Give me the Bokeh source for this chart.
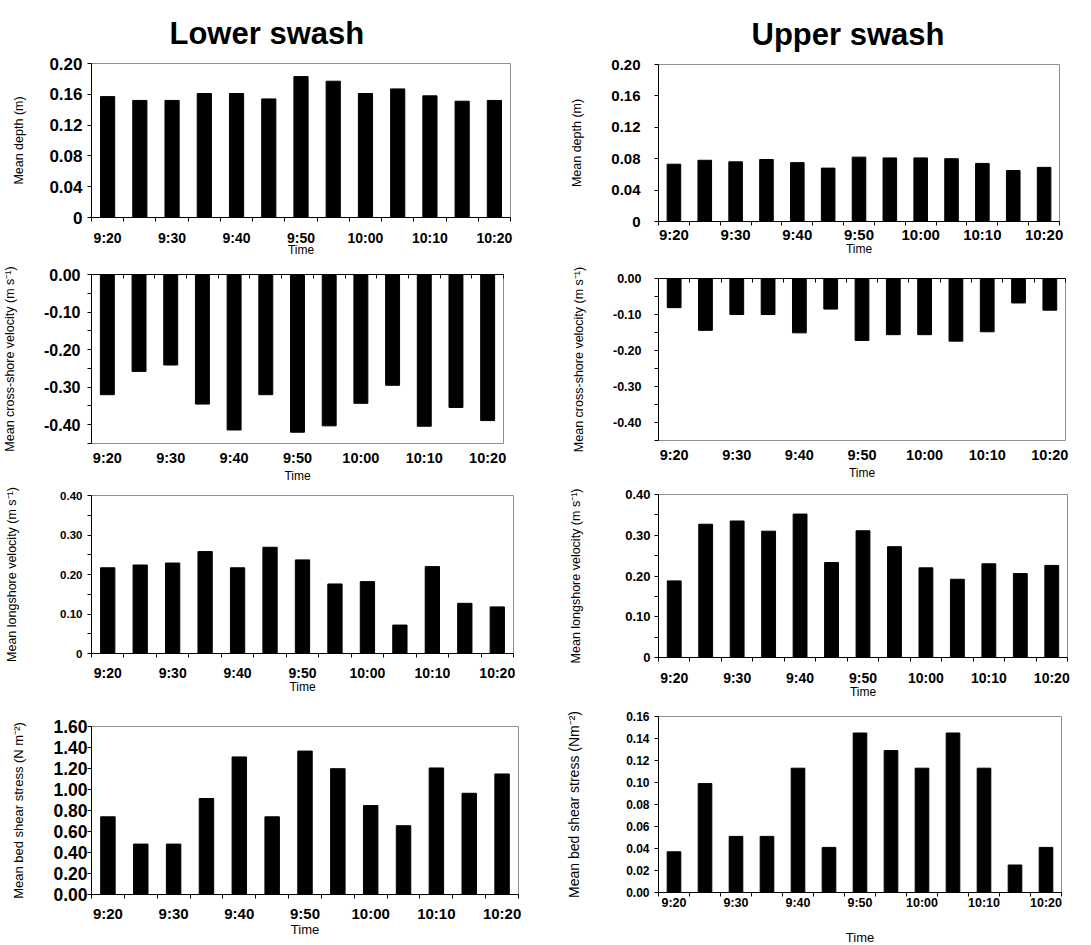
from bokeh.plotting import figure
from bokeh.models import Range1d, FixedTicker, LinearAxis, Title
from bokeh.layouts import row, column
from bokeh.embed import file_html
from bokeh.resources import INLINE

times = ["9:20", "9:25", "9:30", "9:35", "9:40", "9:45", "9:50",
         "9:55", "10:00", "10:05", "10:10", "10:15", "10:20"]

lower_depth = [0.157, 0.152, 0.152, 0.161, 0.161, 0.154, 0.183,
               0.177, 0.161, 0.167, 0.158, 0.151, 0.152]
upper_depth = [0.073, 0.078, 0.076, 0.079, 0.075, 0.068, 0.082,
               0.081, 0.081, 0.080, 0.074, 0.065, 0.069]
lower_cross = [-0.320, -0.258, -0.241, -0.345, -0.414, -0.320, -0.420,
               -0.403, -0.343, -0.295, -0.404, -0.354, -0.389]
upper_cross = [-0.081, -0.144, -0.100, -0.100, -0.151, -0.085, -0.172,
               -0.156, -0.156, -0.174, -0.148, -0.068, -0.088]
lower_long = [0.217, 0.224, 0.229, 0.258, 0.217, 0.269, 0.237,
              0.176, 0.182, 0.072, 0.220, 0.127, 0.118]
upper_long = [0.188, 0.327, 0.335, 0.310, 0.352, 0.233, 0.311,
              0.272, 0.220, 0.192, 0.230, 0.206, 0.226]
lower_shear = [0.74, 0.48, 0.48, 0.914, 1.31, 0.74, 1.366,
               1.198, 0.847, 0.655, 1.205, 0.964, 1.148]
upper_shear = [0.037, 0.099, 0.051, 0.051, 0.113, 0.041, 0.145,
               0.129, 0.113, 0.145, 0.113, 0.025, 0.041]

depth_ticks = [0, 0.04, 0.08, 0.12, 0.16, 0.20]
depth_labels = ["0", "0.04", "0.08", "0.12", "0.16", "0.20"]
cross_ticks = [0, -0.1, -0.2, -0.3, -0.4]
cross_labels = ["0.00", "-0.10", "-0.20", "-0.30", "-0.40"]
cross_minor = [-0.05, -0.15, -0.25, -0.35, -0.45]
long_ticks = [0, 0.1, 0.2, 0.3, 0.4]
long_labels = ["0", "0.10", "0.20", "0.30", "0.40"]
long_minor = [0.05, 0.15, 0.25, 0.35]
lshear_ticks = [0, 0.2, 0.4, 0.6, 0.8, 1.0, 1.2, 1.4, 1.6]
lshear_labels = ["0.00", "0.20", "0.40", "0.60", "0.80", "1.00", "1.20", "1.40", "1.60"]
ushear_ticks = [0, 0.02, 0.04, 0.06, 0.08, 0.10, 0.12, 0.14, 0.16]
ushear_labels = ["0.00", "0.02", "0.04", "0.06", "0.08", "0.10", "0.12", "0.14", "0.16"]

FONT = "Liberation Sans"
GRAY = "#8f8f8f"


def panel(vals, yr, yticks, ylabs, yminor, ylabel, fw, fh, bl, br, bt, bb,
          ytfs, xtfs, ylfs, xlfs, x_standoff, xl_standoff, yl_standoff,
          y_standoff=5, cross=False, title=None, title_offset=0):
    xs = list(range(len(times)))
    p = figure(frame_width=fw, frame_height=fh, min_border_left=bl,
               min_border_right=br, min_border_top=bt, min_border_bottom=bb,
               x_range=Range1d(-0.5, len(times) - 0.5), y_range=Range1d(*yr),
               output_backend="svg", toolbar_location=None, title=None)
    p.vbar(x=xs, top=vals, bottom=0, width=0.44, fill_color="black",
           line_color="black")
    p.xgrid.visible = False
    p.ygrid.visible = False
    p.outline_line_color = GRAY
    p.outline_line_width = 1
    p.background_fill_color = "white"
    p.border_fill_color = "white"

    xmajor = xs[::2]
    xminor = [x - 0.5 for x in xs] + [xs[-1] + 0.5]
    xa = p.xaxis[0]
    xa.ticker = FixedTicker(ticks=xmajor, minor_ticks=xminor)
    xa.major_label_overrides = {x: times[x] for x in xmajor}
    xa.major_tick_out = 0
    xa.major_tick_in = 0
    xa.major_label_standoff = x_standoff
    xa.major_label_text_font = FONT
    xa.major_label_text_font_style = "bold"
    xa.major_label_text_font_size = xtfs
    xa.major_label_text_color = "black"
    xa.axis_label = "Time"
    xa.axis_label_text_font = FONT
    xa.axis_label_text_font_style = "normal"
    xa.axis_label_text_font_size = xlfs
    xa.axis_label_standoff = xl_standoff
    xa.axis_label_text_color = "black"
    if cross:
        xa.axis_line_color = None
        xa.minor_tick_out = 0
        xa.minor_tick_in = 0
        top = LinearAxis(ticker=FixedTicker(ticks=[], minor_ticks=xminor),
                         major_label_text_font_size="0px",
                         major_label_standoff=0,
                         major_tick_out=0, major_tick_in=0,
                         minor_tick_out=0, minor_tick_in=4,
                         axis_line_color="black", minor_tick_line_color="black")
        p.add_layout(top, "above")
    else:
        xa.axis_line_color = "black"
        xa.minor_tick_out = 4
        xa.minor_tick_in = 0
        xa.minor_tick_line_color = "black"

    ya = p.yaxis[0]
    ya.ticker = FixedTicker(ticks=yticks, minor_ticks=yminor)
    ya.major_label_overrides = {t: l for t, l in zip(yticks, ylabs)}
    ya.major_tick_out = 4
    ya.major_tick_in = 0
    ya.minor_tick_out = 4 if yminor else 0
    ya.minor_tick_in = 0
    ya.axis_line_color = "black"
    ya.major_tick_line_color = "black"
    ya.minor_tick_line_color = "black"
    ya.major_label_standoff = y_standoff
    ya.major_label_text_font = FONT
    ya.major_label_text_font_style = "bold"
    ya.major_label_text_font_size = ytfs
    ya.major_label_text_color = "black"
    ya.axis_label = ylabel
    ya.axis_label_text_font = FONT
    ya.axis_label_text_font_style = "normal"
    ya.axis_label_text_font_size = ylfs
    ya.axis_label_standoff = yl_standoff
    ya.axis_label_text_color = "black"

    if title:
        p.add_layout(Title(text=title, align="left", offset=title_offset,
                           text_font=FONT, text_font_style="bold",
                           text_font_size="31px", text_color="black",
                           standoff=25), "above")
    return p


L1 = panel(lower_depth, (0, 0.20), depth_ticks, depth_labels, [], "Mean depth (m)",
           419, 154, 89, 40, 63, 44, "17px", "14px", "12.5px", "12px", 8, -6, 20,
           y_standoff=5, title="Lower swash", title_offset=78)
L2 = panel(lower_cross, (-0.45, 0), cross_ticks, cross_labels, cross_minor,
           "Mean cross-shore velocity (m s\u207b\u00b9)",
           412, 169, 88, 48, 13, 43, "16px", "14.5px", "12.5px", "12px", 6, 0, 24,
           y_standoff=7, cross=True)
L3 = panel(lower_long, (0, 0.40), long_ticks, long_labels, long_minor,
           "Mean longshore velocity (m s\u207b\u00b9)",
           422, 158, 89, 37, 9, 47, "11.5px", "14px", "12.5px", "12px", 7, -4, 38,
           y_standoff=5)
L4 = panel(lower_shear, (0, 1.6), lshear_ticks, lshear_labels, [],
           "Mean bed shear stress (N m\u207b\u00b2)",
           427, 168, 83, 38, 26, 49, "17.5px", "15px", "13px", "13px", 6, -3, 24,
           y_standoff=0)

R1 = panel(upper_depth, (0, 0.20), depth_ticks, depth_labels, [], "Mean depth (m)",
           401, 157, 99, 42, 64, 39, "15px", "15px", "12.5px", "12px", 0, -4, 24,
           y_standoff=14, title="Upper swash", title_offset=93)
R2 = panel(upper_cross, (-0.45, 0), cross_ticks, cross_labels, cross_minor,
           "Mean cross-shore velocity (m s\u207b\u00b9)",
           407, 162, 98, 37, 18, 44, "12.5px", "14.5px", "12.5px", "12px", 6, 0, 24,
           y_standoff=13, cross=True)
R3 = panel(upper_long, (0, 0.40), long_ticks, long_labels, long_minor,
           "Mean longshore velocity (m s\u207b\u00b9)",
           409, 163, 100, 33, 10, 45, "13px", "14px", "12.5px", "12px", 8, -4, 39,
           y_standoff=4)
R4 = panel(upper_shear, (0, 0.16), ushear_ticks, ushear_labels, [],
           "Mean bed shear stress (Nm\u207b\u00b2)",
           403, 176, 107, 32, 14, 52, "12px", "12.5px", "14px", "13px", -1, 17, 41,
           y_standoff=5)

layout = row(column(L1, L2, L3, L4, spacing=0), column(R1, R2, R3, R4, spacing=0),
             spacing=0)
open("out.html", "w").write(file_html(layout, INLINE))
